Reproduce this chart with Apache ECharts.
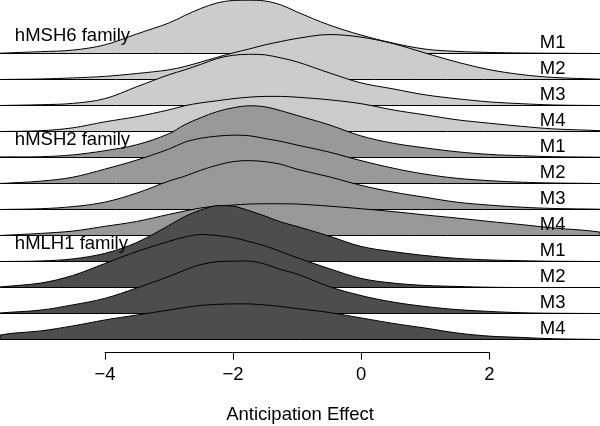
<!DOCTYPE html>
<html><head><meta charset="utf-8">
<script src="https://cdn.jsdelivr.net/npm/echarts@6/dist/echarts.min.js"></script>
<style>html,body{margin:0;padding:0;background:#fff}#c{width:600px;height:426px}</style>
</head><body><div id="c"></div>
<script>
// ---- data ----
const families = ['hMSH6 family', 'hMSH2 family', 'hMLH1 family'];
const models = ['M1', 'M2', 'M3', 'M4'];
const axisTicks = [-4, -2, 0, 2];
const axisTitle = 'Anticipation Effect';
// anticipation effect grid at which the densities are read
const effectGrid = [-5.632, -5, -4.5, -4, -3.5, -3, -2.75, -2.5, -2.25, -2, -1.75, -1.5, -1.25, -1, -0.5, 0, 0.5, 1, 1.5, 2, 2.5, 3, 3.729];
// density heights (in ridge-spacing units)
const hMSH6_M1 = [0.01,0.07,0.13,0.33,0.75,1.17,1.46,1.73,1.94,2.04,2.05,2.02,1.87,1.60,1.10,0.71,0.40,0.17,0.08,0.04,0.02,0.01,0.00];
const hMSH6_M2 = [0.00,0.02,0.06,0.12,0.23,0.37,0.50,0.67,0.85,1.02,1.17,1.33,1.46,1.58,1.73,1.63,1.38,1.02,0.67,0.38,0.19,0.08,0.01];
const hMSH6_M3 = [0.00,0.03,0.08,0.26,0.72,1.18,1.37,1.58,1.80,1.93,1.97,1.95,1.83,1.68,1.26,0.87,0.64,0.41,0.26,0.14,0.07,0.02,0.00];
const hMSH6_M4 = [0.00,0.03,0.14,0.37,0.57,0.83,0.99,1.10,1.18,1.26,1.32,1.35,1.35,1.32,1.22,1.07,0.83,0.64,0.45,0.32,0.20,0.10,0.03];
const hMSH2_M1 = [0.02,0.03,0.10,0.26,0.49,0.91,1.26,1.53,1.76,1.91,1.99,1.95,1.80,1.62,1.26,0.83,0.55,0.37,0.22,0.12,0.07,0.03,0.01];
const hMSH2_M2 = [0.00,0.09,0.24,0.55,0.90,1.32,1.59,1.74,1.82,1.86,1.84,1.73,1.62,1.48,1.21,0.88,0.59,0.36,0.20,0.11,0.05,0.02,0.00];
const hMSH2_M3 = [0.00,0.03,0.11,0.28,0.63,1.09,1.28,1.51,1.70,1.84,1.88,1.84,1.74,1.55,1.26,0.93,0.67,0.47,0.28,0.17,0.09,0.04,0.01];
const hMSH2_M4 = [0.00,0.08,0.17,0.35,0.54,0.81,0.94,1.06,1.13,1.17,1.21,1.22,1.22,1.21,1.13,1.03,0.92,0.79,0.67,0.54,0.42,0.29,0.13];
const hMLH1_M1 = [0.00,0.02,0.10,0.31,0.73,1.38,1.73,1.98,2.15,2.13,1.96,1.75,1.52,1.35,0.98,0.58,0.38,0.23,0.12,0.06,0.03,0.01,0.00];
const hMLH1_M2 = [0.02,0.17,0.46,0.92,1.38,1.77,1.94,2.04,2.00,1.92,1.77,1.60,1.38,1.15,0.73,0.35,0.17,0.08,0.04,0.01,0.00,0.00,0.00];
const hMLH1_M3 = [0.02,0.13,0.33,0.58,0.98,1.42,1.67,1.88,1.99,2.01,2.02,1.90,1.69,1.52,1.04,0.69,0.44,0.27,0.15,0.08,0.03,0.01,0.00];
const hMLH1_M4 = [0.17,0.33,0.52,0.75,0.94,1.13,1.23,1.31,1.35,1.37,1.37,1.33,1.27,1.19,1.04,0.83,0.62,0.44,0.25,0.13,0.08,0.03,0.00];

const densities = [
  [hMSH6_M1, hMSH6_M2, hMSH6_M3, hMSH6_M4],
  [hMSH2_M1, hMSH2_M2, hMSH2_M3, hMSH2_M4],
  [hMLH1_M1, hMLH1_M2, hMLH1_M3, hMLH1_M4]
];

// ---- styles / layout ----
const fills = ['#cccccc', '#999999', '#4d4d4d'];
const FONT = '"Liberation Sans", Arial, Helvetica, sans-serif';
const FS = 18.5;
const nRows = families.length * models.length;
const xMin = effectGrid[0], xMax = effectGrid[effectGrid.length - 1];
const modelLabelX = 2.79;
const familyLabelX = -5.40;

const series = [];
const rowLabels = [];
const famLabels = [];
families.forEach((fam, f) => {
  models.forEach((m, k) => {
    const row = f * models.length + k;
    const base = nRows - 1 - row;
    const dens = densities[f][k];
    rowLabels.push({ x: modelLabelX, y: base, text: m });
    if (k === 0) famLabels.push({ x: familyLabelX, y: base, text: fam });
    series.push({
      type: 'custom',
      name: fam + ' ' + m,
      coordinateSystem: 'cartesian2d',
      xAxisIndex: 0, yAxisIndex: 0,
      z: 10 + row,
      silent: true,
      clip: true,
      data: effectGrid.map((x, j) => [x, base + dens[j]]),
      renderItem: function (params, api) {
        if (params.dataIndex !== 0) return null;
        const pts = effectGrid.map((x, j) => api.coord([x, base + dens[j]]));
        pts.push(api.coord([xMax, base]));
        pts.push(api.coord([xMin, base]));
        let x0 = Infinity, y0 = Infinity, x1 = -Infinity, y1 = -Infinity;
        pts.forEach(p => { x0 = Math.min(x0, p[0]); y0 = Math.min(y0, p[1]); x1 = Math.max(x1, p[0]); y1 = Math.max(y1, p[1]); });
        return {
          type: 'polygon',
          shape: { points: pts, smooth: 0.35, smoothConstraint: [[x0, y0], [x1, y1]] },
          style: { fill: fills[f], stroke: '#000', lineWidth: 1 }
        };
      }
    });
  });
});

function textSeries(list, dy) {
  return {
    type: 'custom',
    coordinateSystem: 'cartesian2d',
    xAxisIndex: 0, yAxisIndex: 0,
    z: 100, silent: true, clip: false,
    data: list.map(d => [d.x, d.y]),
    renderItem: function (params, api) {
      const p = api.coord([api.value(0), api.value(1)]);
      return {
        type: 'text', x: p[0], y: p[1] - dy,
        style: { text: list[params.dataIndex].text, fill: '#000', fontSize: FS, fontFamily: FONT, align: 'left', verticalAlign: 'middle' }
      };
    }
  };
}
series.push(textSeries(rowLabels, 11));
series.push(textSeries(famLabels, 17.5));

const chart = echarts.init(document.getElementById('c'), null, { renderer: 'canvas' });
chart.setOption({
  animation: false,
  backgroundColor: '#fff',
  grid: [
    { left: 0, right: 0, top: 0, bottom: 73.3, outerBoundsMode: 'none', containLabel: false },
    { left: 105, right: 110.7, top: 300, bottom: 73.3, outerBoundsMode: 'none', containLabel: false }
  ],
  xAxis: [
    {
      type: 'value', gridIndex: 0, min: xMin, max: xMax,
      axisLine: { show: false }, axisTick: { show: false }, axisLabel: { show: false }, splitLine: { show: false },
      name: axisTitle, nameLocation: 'middle', nameGap: 53,
      nameTextStyle: { color: '#000', fontSize: FS, fontFamily: FONT }
    },
    {
      type: 'value', gridIndex: 1, min: axisTicks[0], max: axisTicks[axisTicks.length - 1], interval: 2,
      axisLine: { show: true, lineStyle: { color: '#000', width: 1 } },
      axisTick: { show: true, inside: false, length: 7, lineStyle: { color: '#000', width: 1 } },
      axisLabel: { show: true, color: '#000', fontSize: FS, fontFamily: FONT, margin: 13,
        formatter: v => String(v).replace('-', '\u2212') },
      splitLine: { show: false }
    }
  ],
  yAxis: [
    { type: 'value', gridIndex: 0, min: -13.2 / 26, max: 339.5 / 26, show: false },
    { type: 'value', gridIndex: 1, min: 0, max: 1, show: false }
  ],
  series: series
});
</script></body></html>
